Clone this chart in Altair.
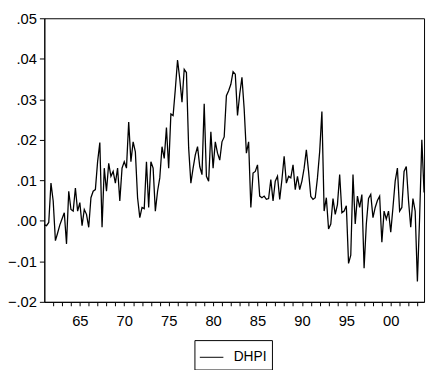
import altair as alt
import pandas as pd

# Quarterly DHPI values, 1961Q1 .. 2003Q4
dhpi_1961_1969 = [
    -0.0010, -0.0012, -0.0004, 0.0093, 0.0049, -0.0049, -0.0030, -0.0010,
    0.0005, 0.0020, -0.0057, 0.0073, 0.0028, 0.0024, 0.0081, 0.0024,
    0.0045, -0.0012, 0.0028, 0.0016, -0.0016, 0.0057, 0.0073, 0.0077,
    0.0146, 0.0193, -0.0016, 0.0130, 0.0073, 0.0142, 0.0110, 0.0122,
    0.0093, 0.0130, 0.0049, 0.0130,
]
dhpi_1970s = [
    0.0146, 0.0130, 0.0244, 0.0146, 0.0195, 0.0170, 0.0057, 0.0008,
    0.0033, 0.0030, 0.0146, 0.0033, 0.0146, 0.0130, 0.0024, 0.0073,
    0.0106, 0.0183, 0.0154, 0.0230, 0.0130, 0.0264, 0.0260, 0.0325,
    0.0397, 0.0350, 0.0293, 0.0374, 0.0366, 0.0180, 0.0093, 0.0130,
    0.0163, 0.0183, 0.0134, 0.0114, 0.0289, 0.0110, 0.0098, 0.0220,
]
dhpi_1980s = [
    0.0130, 0.0195, 0.0167, 0.0150, 0.0195, 0.0207, 0.0309, 0.0321,
    0.0337, 0.0368, 0.0362, 0.0260, 0.0313, 0.0354, 0.0276, 0.0167,
    0.0195, 0.0033, 0.0118, 0.0122, 0.0138, 0.0061, 0.0057, 0.0061,
    0.0053, 0.0055, 0.0102, 0.0049, 0.0098, 0.0110, 0.0053, 0.0102,
    0.0159, 0.0093, 0.0110, 0.0106, 0.0138, 0.0077, 0.0110, 0.0077,
]
dhpi_1990s = [
    0.0098, 0.0130, 0.0175, 0.0122, 0.0060, 0.0053, 0.0057, 0.0106,
    0.0171, 0.0270, 0.0024, 0.0057, -0.0020, -0.0008, 0.0055, 0.0016,
    0.0040, 0.0114, 0.0020, 0.0024, 0.0037, -0.0105, -0.0085, 0.0114,
    -0.0008, 0.0061, 0.0033, 0.0065, -0.0117, -0.0008, 0.0055, 0.0065,
    0.0008, 0.0033, 0.0050, 0.0061, -0.0053, 0.0024, 0.0004, 0.0024,
]
dhpi_2000_2003 = [
    -0.0028, 0.0033, 0.0098, 0.0130, 0.0024, 0.0033, 0.0122, 0.0134,
    0.0050, -0.0016, 0.0055, 0.0024, -0.0150, 0.0008, 0.0200, 0.0070,
]

series_name = "DHPI"
first_year = 1961
y_ticks = [-0.02, -0.01, 0.0, 0.01, 0.02, 0.03, 0.04, 0.05]
x_tick_years = list(range(1962, 2004))

values = dhpi_1961_1969 + dhpi_1970s + dhpi_1980s + dhpi_1990s + dhpi_2000_2003
df = pd.DataFrame({
    "t": [first_year + i / 4 for i in range(len(values))],
    "v": values,
    "s": [series_name] * len(values),
})

FONT = "Liberation Sans"

chart = alt.Chart(df).mark_line(strokeWidth=1.3).encode(
    x=alt.X(
        "t:Q",
        scale=alt.Scale(domain=[1961, 2003.75], nice=False, zero=False),
        axis=alt.Axis(
            values=x_tick_years,
            labelExpr="datum.value % 5 == 0 ? substring(toString(datum.value), 2, 4) : ''",
            title=None, grid=False, tickSize=4, labelPadding=8,
            labelFontSize=15, labelFont=FONT, labelColor="black",
            domainColor="black", tickColor="black", labelFlush=False,
        ),
    ),
    y=alt.Y(
        "v:Q",
        scale=alt.Scale(domain=[-0.02, 0.05], nice=False, zero=False),
        axis=alt.Axis(
            values=y_ticks,
            labelExpr="replace(format(datum.value, '.2f'), '0.', '.')",
            title=None, grid=False, tickSize=5, labelPadding=3,
            labelFontSize=15, labelFont=FONT, labelColor="black",
            domainColor="black", tickColor="black",
        ),
    ),
    color=alt.Color(
        "s:N",
        scale=alt.Scale(range=["black"]),
        legend=alt.Legend(
            title=None, orient="none", legendX=153, legendY=328,
            symbolType="stroke", symbolSize=576, symbolStrokeWidth=1,
            strokeColor="black", padding=5, labelFontSize=14,
            labelFont=FONT, labelColor="black", labelOffset=10,
        ),
    ),
).properties(
    width=387,
    height=289,
    padding={"left": 37, "top": 7, "right": 3, "bottom": 66},
    autosize=alt.AutoSizeParams(type="none"),
).configure_view(stroke="black", strokeWidth=1)

chart.save("out.html", embed_options={"renderer": "svg", "actions": False})
